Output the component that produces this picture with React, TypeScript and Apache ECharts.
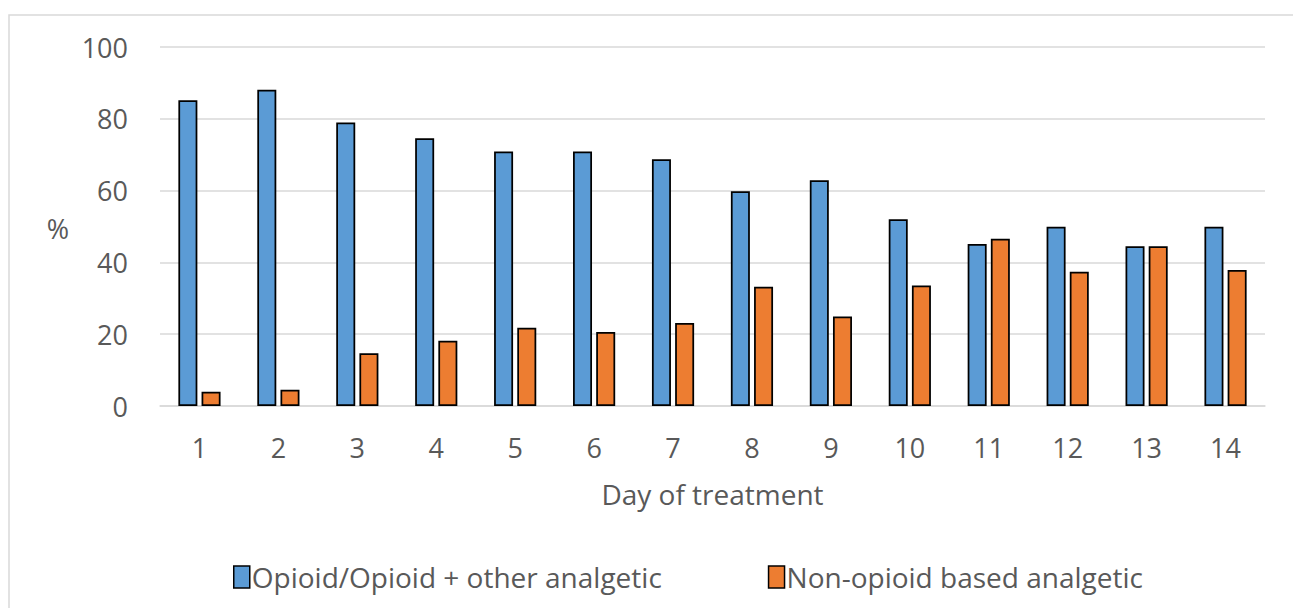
import React, { useEffect, useRef } from "react";
import * as echarts from "echarts";

// Share of patients by analgesic regimen, per day of treatment
const days = ["1", "2", "3", "4", "5", "6", "7", "8", "9", "10", "11", "12", "13", "14"];
const opioid = [85.2, 88.1, 79.0, 74.6, 70.9, 70.9, 68.7, 59.8, 62.9, 52.0, 45.1, 49.9, 44.5, 49.9];
const nonOpioid = [4.0, 4.5, 14.7, 18.2, 21.8, 20.6, 23.1, 33.2, 24.9, 33.6, 46.6, 37.4, 44.5, 37.9];
const yTicks = [0, 20, 40, 60, 80, 100];

const FONT = '"Open Sans", "Noto Sans", sans-serif';
const TEXT = "#595959";
const AXIS_FONT = 27;
const LEGEND_FONT = 28;

export default function App() {
  const ref = useRef<HTMLDivElement>(null);

  useEffect(() => {
    if (!ref.current) return;
    const chart = echarts.init(ref.current, undefined, { renderer: "svg" });
    chart.setOption({
      animation: false,
      backgroundColor: "#ffffff",
      textStyle: { fontFamily: FONT },
      graphic: [
        {
          type: "rect",
          shape: { x: 9, y: 15, width: 1300, height: 600 },
          style: { fill: "none", stroke: "#d9d9d9", lineWidth: 1.5 },
          silent: true,
        },
        {
          type: "text",
          x: 58,
          y: 228,
          style: { text: "%", font: `${AXIS_FONT}px ${FONT}`, fill: TEXT, align: "center", verticalAlign: "middle" },
        },
      ],
      grid: { left: 160, right: 28, top: 47, bottom: 202 },
      legend: {
        left: 228,
        top: 558,
        itemWidth: 16,
        itemHeight: 22,
        itemGap: 106,
        icon: "rect",
        itemStyle: { borderColor: "#000000", borderWidth: 1.5 },
        textStyle: { fontSize: LEGEND_FONT, color: TEXT, fontFamily: FONT, padding: [0, 0, 0, -3] },
        data: ["Opioid/Opioid + other analgetic", "Non-opioid based analgetic"],
      },
      xAxis: {
        type: "category",
        data: days,
        name: "Day of treatment",
        nameLocation: "middle",
        nameGap: 74,
        nameTextStyle: { fontSize: LEGEND_FONT, color: TEXT, fontFamily: FONT },
        axisLine: { lineStyle: { color: "#d9d9d9", width: 1.5 } },
        axisTick: { show: false },
        axisLabel: { fontSize: AXIS_FONT, color: TEXT, margin: 28, fontFamily: FONT },
      },
      yAxis: {
        type: "value",
        min: yTicks[0],
        max: yTicks[yTicks.length - 1],
        interval: 20,
        axisLine: { show: false },
        axisTick: { show: false },
        axisLabel: { fontSize: AXIS_FONT, color: TEXT, margin: 32, fontFamily: FONT },
        splitLine: { lineStyle: { color: "#d9d9d9", width: 1.5 } },
      },
      series: [
        {
          name: "Opioid/Opioid + other analgetic",
          type: "bar",
          data: opioid,
          barWidth: 19,
          barGap: "22%",
          itemStyle: { color: "#5b9bd5", borderColor: "#000000", borderWidth: 1.75 },
        },
        {
          name: "Non-opioid based analgetic",
          type: "bar",
          data: nonOpioid,
          barWidth: 19,
          itemStyle: { color: "#ed7d31", borderColor: "#000000", borderWidth: 1.75 },
        },
      ],
    });
    return () => chart.dispose();
  }, []);

  return (
    <div
      ref={ref}
      style={{ position: "absolute", left: 0, top: 0, width: 1293, height: 608 }}
    />
  );
}
